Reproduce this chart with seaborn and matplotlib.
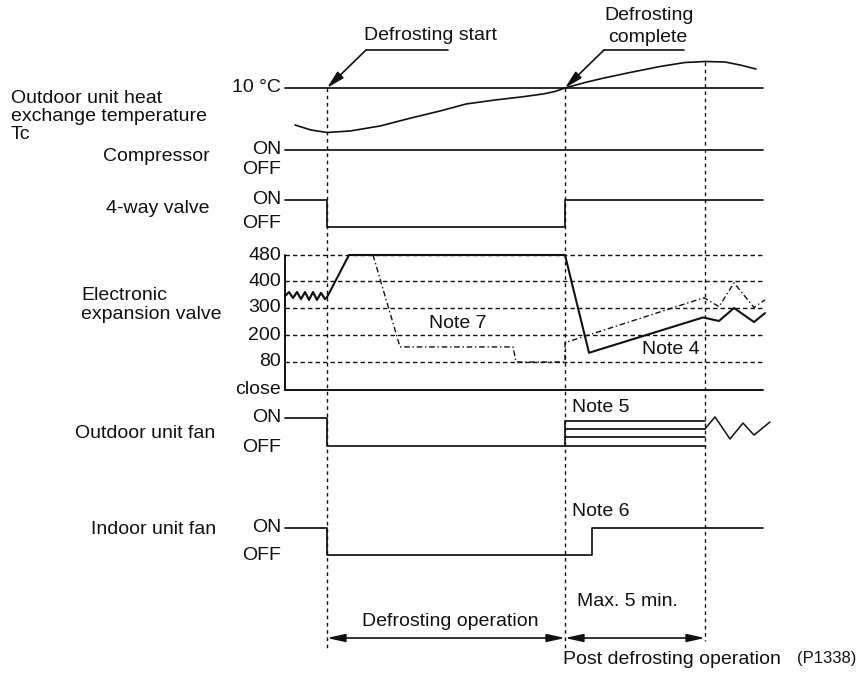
import numpy as np
import matplotlib
matplotlib.use("Agg")
import matplotlib.pyplot as plt
import seaborn as sns

# ---------------------------------------------------------------------------
# Timeline (horizontal layout units) and event times
# ---------------------------------------------------------------------------
t_begin = 285          # left edge of every trace
t_defrost_start = 327  # defrosting start
t_defrost_done = 565   # defrosting complete
t_post_end = 705       # end of post-defrosting (max. 5 min.)
t_end = 763            # right edge of every trace
t_indoor_fan_on = 592  # indoor fan restarts (Note 6)

# ---------------------------------------------------------------------------
# Outdoor unit heat exchanger temperature Tc (deg C, 10 deg C reference)
# ---------------------------------------------------------------------------
tc_ref = 10
tc_time = [295, 311, 327, 350, 380, 411, 440, 466, 495, 521, 543, 555, 565,
           585, 604, 630, 660, 685, 705, 725, 740, 756]
tc_temp = [2.6, 1.6, 1.1, 1.4, 2.4, 4.0, 5.4, 6.8, 7.6, 8.2, 8.8, 9.3, 10.0,
           11.1, 12.0, 13.1, 14.3, 15.1, 15.3, 15.2, 14.6, 13.8]

# ---------------------------------------------------------------------------
# ON/OFF signals (1 = ON, 0 = OFF)
# ---------------------------------------------------------------------------
comp_time = [t_begin, t_end]
comp_state = [1, 1]

valve4_time = [t_begin, t_defrost_start, t_defrost_start, t_defrost_done,
               t_defrost_done, t_end]
valve4_state = [1, 1, 0, 0, 1, 1]

ofan_time = [t_begin, t_defrost_start, t_defrost_start, t_post_end]
ofan_state = [1, 1, 0, 0]
ofan_steps = [0.89, 0.61, 0.32, 0.0]          # Note 5 fan steps
ofan_zig_time = [705, 715, 730, 743, 754, 770]
ofan_zig_state = [0.61, 1.04, 0.25, 0.82, 0.39, 0.86]

ifan_time = [t_begin, t_defrost_start, t_defrost_start, t_indoor_fan_on,
             t_indoor_fan_on, t_end]
ifan_state = [1, 1, 0, 0, 1, 1]

# ---------------------------------------------------------------------------
# Electronic expansion valve opening (pulses)
# ---------------------------------------------------------------------------
eev_levels = [480, 400, 300, 200, 80, 0]
eev_level_labels = ["480", "400", "300", "200", "80", "close"]

eev_wave_time = [285, 289, 293, 297, 301, 305, 309, 313, 317, 321, 325, 327]
eev_wave_pulse = [344, 359, 337, 359, 333, 359, 330, 359, 330, 356, 333, 340]

eev_main_time = [327, 349, 565, 589, 703, 719, 734, 754, 765]
eev_main_pulse = [340, 480, 480, 121, 265, 252, 300, 248, 281]

eev_note7_time = [373, 400, 513, 516, 565, 565, 704, 719, 734, 754, 765]
eev_note7_pulse = [480, 147, 147, 80, 80, 166, 338, 305, 393, 302, 330]

# ---------------------------------------------------------------------------
# Row layout (vertical positions of each signal band)
# ---------------------------------------------------------------------------
y_tc_ref, px_per_deg = 88, 5.0
y_comp_on, y_comp_off = 150, 169
y_v4_on, y_v4_off = 200, 227
y_ofan_on, y_ofan_off = 418, 446
y_ifan_on, y_ifan_off = 528, 555
eev_rows = [255, 281, 308, 335, 362, 390]


def onoff_y(state, y_on, y_off):
    return y_off - np.asarray(state, dtype=float) * (y_off - y_on)


def eev_y(pulse):
    lv = eev_levels[::-1]
    rows = eev_rows[::-1]
    return np.interp(np.asarray(pulse, dtype=float), lv, rows)


def tc_y(temp):
    return y_tc_ref - (np.asarray(temp, dtype=float) - tc_ref) * px_per_deg


# ---------------------------------------------------------------------------
sns.set_theme(style="white")
plt.rcParams["font.family"] = ["Liberation Sans", "DejaVu Sans"]
FS = 14

fig = plt.figure(figsize=(8.58, 6.73), dpi=100)
ax = fig.add_axes([0, 0, 1, 1])
ax.set_xlim(0, 858)
ax.set_ylim(673, 0)
ax.axis("off")

INK = "#111111"
LW = 1.25


def trace(t, y, lw=LW, **kw):
    sns.lineplot(x=np.asarray(t, dtype=float), y=np.asarray(y, dtype=float),
                 ax=ax, sort=False, estimator=None, color=INK, lw=lw,
                 legend=False, **kw)


# Temperature band
trace([t_begin, t_end], [y_tc_ref, y_tc_ref])
trace(tc_time, tc_y(tc_temp), lw=1.2)

# Compressor
trace(comp_time, onoff_y(comp_state, y_comp_on, y_comp_off))

# 4-way valve
trace(valve4_time, onoff_y(valve4_state, y_v4_on, y_v4_off))

# Electronic expansion valve: level grid
for lvl, row in zip(eev_levels, eev_rows):
    if lvl == 0:
        trace([t_begin, t_end], [row, row], lw=1.4)
    else:
        trace([t_begin, t_end], [row, row], lw=1.0, linestyle=(0, (3.2, 2.2)))
trace([t_begin, t_begin], [eev_rows[0], eev_rows[-1]], lw=1.4)
trace(eev_wave_time, eev_y(eev_wave_pulse), lw=1.6)
trace(eev_main_time, eev_y(eev_main_pulse), lw=1.5)
trace(eev_note7_time, eev_y(eev_note7_pulse), lw=1.0,
      linestyle=(0, (4, 2, 1, 2)))

# Outdoor unit fan
trace(ofan_time, onoff_y(ofan_state, y_ofan_on, y_ofan_off))
trace([t_defrost_done, t_defrost_done],
      onoff_y([0, ofan_steps[0]], y_ofan_on, y_ofan_off))
for s in ofan_steps[:-1]:
    yy = onoff_y([s, s], y_ofan_on, y_ofan_off)
    trace([t_defrost_done, t_post_end], yy)
trace(ofan_zig_time, onoff_y(ofan_zig_state, y_ofan_on, y_ofan_off), lw=1.1)

# Indoor unit fan
trace(ifan_time, onoff_y(ifan_state, y_ifan_on, y_ifan_off))

# Event markers (vertical dashed lines)
vdash = dict(lw=1.0, linestyle=(0, (2.6, 2.6)))
trace([t_defrost_start, t_defrost_start], [y_tc_ref, 649], **vdash)
trace([t_defrost_done, t_defrost_done], [y_tc_ref, 649], **vdash)
trace([t_post_end, t_post_end], [tc_y(15.3), 641], **vdash)

# ---------------------------------------------------------------------------
# Text
# ---------------------------------------------------------------------------
left_labels = [
    ("Outdoor unit heat", 11, 103),
    ("exchange temperature", 11, 121),
    ("Tc", 11, 139),
    ("Compressor", 103, 161),
    ("4-way valve", 106, 213),
    ("Electronic", 81, 300),
    ("expansion valve", 81, 319),
    ("Outdoor unit fan", 75, 438),
    ("Indoor unit fan", 91, 534),
]
for txt, x, y in left_labels:
    ax.text(x, y, txt, fontsize=FS, ha="left", va="baseline", color=INK)

tick_x = 281
tick_labels = [("10 °C", y_tc_ref - 1), ("ON", y_comp_on - 1), ("OFF", y_comp_off),
               ("ON", y_v4_on - 1), ("OFF", y_v4_off - 3),
               ("ON", y_ofan_on), ("OFF", y_ofan_off + 1),
               ("ON", y_ifan_on), ("OFF", y_ifan_off)]
tick_labels += list(zip(eev_level_labels, eev_rows))
for txt, y in tick_labels:
    ax.text(tick_x, y, txt, fontsize=FS, ha="right", va="center", color=INK)

notes = [("Note 7", 458, 323, "center"), ("Note 4", 671, 350, "center"),
         ("Note 5", 572, 408, "left"), ("Note 6", 572, 512, "left"),
         ("Max. 5 min.", 577, 601, "left")]
for txt, x, y, ha in notes:
    ax.text(x, y, txt, fontsize=FS, ha=ha, va="center", color=INK)

ax.text(430, 35, "Defrosting start", fontsize=FS, ha="center", va="center", color=INK)
ax.text(649, 16, "Defrosting", fontsize=FS, ha="center", va="center", color=INK)
ax.text(648, 37, "complete", fontsize=FS, ha="center", va="center", color=INK)

ax.text(450, 622, "Defrosting operation", fontsize=FS, ha="center", va="center", color=INK)
ax.text(672, 660, "Post defrosting operation", fontsize=FS, ha="center", va="center", color=INK)
ax.text(856, 658, "(P1338)", fontsize=12, ha="right", va="center", color=INK)

# Leader arrows to the two events
head = "-|>,head_length=0.9,head_width=0.22"
for (x0, x1, tx) in [(366, 448, t_defrost_start), (604, 684, t_defrost_done)]:
    trace([x0, x1], [50, 50], lw=1.2)
    ax.annotate("", xy=(tx, y_tc_ref), xytext=(x0, 50),
                arrowprops=dict(arrowstyle=head, color=INK, lw=1.2,
                                shrinkA=0, shrinkB=0))

# Duration arrows
both = "<|-|>,head_length=0.9,head_width=0.2"
for a, b in [(t_defrost_start, t_defrost_done), (t_defrost_done, t_post_end)]:
    ax.annotate("", xy=(b, 638), xytext=(a, 638),
                arrowprops=dict(arrowstyle=both, color=INK, lw=1.2,
                                shrinkA=0, shrinkB=0))

fig.savefig("out.png", dpi=100, facecolor="white")
